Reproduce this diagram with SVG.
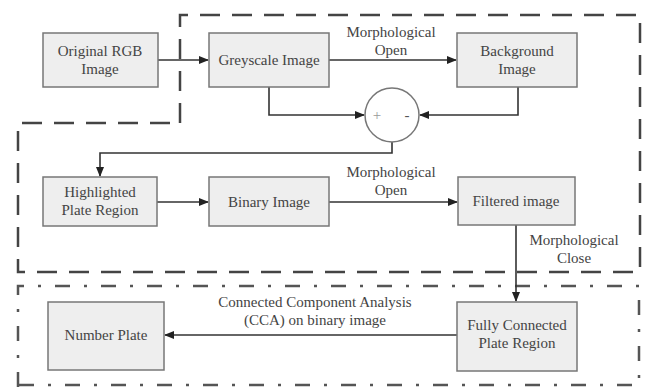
<svg xmlns="http://www.w3.org/2000/svg" width="649" height="387" viewBox="0 0 649 387">
<style>
.box{fill:#eeeeee;stroke:#777;stroke-width:1.5}
.t{font-family:"Liberation Serif","Times New Roman",serif;font-size:15px;fill:#444;text-anchor:middle}
.ln{fill:none;stroke:#333;stroke-width:1.6}
.dash{fill:none;stroke:#444;stroke-width:2.5;stroke-dasharray:20 12}
.dd{fill:none;stroke:#555;stroke-width:2.5;stroke-dasharray:15 14 3 14}
</style>
<defs>
<marker id="ah" markerWidth="10" markerHeight="10" refX="9" refY="5" orient="auto" markerUnits="userSpaceOnUse">
<path d="M0,1 L10,5 L0,9 Z" fill="#222"/>
</marker>
</defs>
<rect width="649" height="387" fill="#fff"/>
<g id="regions">
<path class="dash" d="M180,123 V15 H640 V272 H18 V123 H180"/>
<path class="dd" d="M18,387 V286 H639 V385 H18"/>
</g>
<g id="connectors">
<path class="ln" d="M158,60 H208" marker-end="url(#ah)"/>
<path class="ln" d="M329,60 H456" marker-end="url(#ah)"/>
<path class="ln" d="M269,87 V115 H364" marker-end="url(#ah)"/>
<path class="ln" d="M518,87 V115 H420" marker-end="url(#ah)"/>
<path class="ln" d="M392,142 V153 H100 V176" marker-end="url(#ah)"/>
<path class="ln" d="M157,202 H208" marker-end="url(#ah)"/>
<path class="ln" d="M329,202 H457" marker-end="url(#ah)"/>
<path class="ln" d="M516,225 V301" marker-end="url(#ah)"/>
<path class="ln" d="M457,335 H165" marker-end="url(#ah)"/>
<text class="t" x="391" y="37">Morphological</text>
<text class="t" x="391" y="55">Open</text>
<text class="t" x="391" y="177">Morphological</text>
<text class="t" x="391" y="195">Open</text>
<text class="t" x="574" y="245">Morphological</text>
<text class="t" x="574" y="263">Close</text>
<text class="t" x="315" y="307">Connected Component Analysis</text>
<text class="t" x="315" y="325">(CCA) on binary image</text>
</g>
<g id="n1"><rect class="box" x="43" y="33" width="115" height="54"/><text class="t" x="100" y="56">Original RGB</text><text class="t" x="100" y="74">Image</text></g>
<g id="n2"><rect class="box" x="209" y="33" width="120" height="54"/><text class="t" x="269" y="65">Greyscale Image</text></g>
<g id="n3"><rect class="box" x="457" y="33" width="120" height="54"/><text class="t" x="517" y="56">Background</text><text class="t" x="517" y="74">Image</text></g>
<g id="sum"><circle cx="392" cy="115" r="27" fill="#fff" stroke="#777" stroke-width="1.5"/><text class="t" x="377" y="120" font-size="18" style="fill:#999999">+</text><text class="t" x="407" y="120" font-size="20" style="fill:#555555">-</text></g>
<g id="n4"><rect class="box" x="43" y="177" width="114" height="49"/><text class="t" x="100" y="197">Highlighted</text><text class="t" x="100" y="215">Plate Region</text></g>
<g id="n5"><rect class="box" x="209" y="177" width="120" height="49"/><text class="t" x="269" y="207">Binary Image</text></g>
<g id="n6"><rect class="box" x="458" y="177" width="117" height="48"/><text class="t" x="516" y="206">Filtered image</text></g>
<g id="n7"><rect class="box" x="48" y="302" width="116" height="68"/><text class="t" x="106" y="340">Number Plate</text></g>
<g id="n8"><rect class="box" x="457" y="302" width="120" height="69"/><text class="t" x="517" y="330">Fully Connected</text><text class="t" x="517" y="348">Plate Region</text></g>
</svg>
